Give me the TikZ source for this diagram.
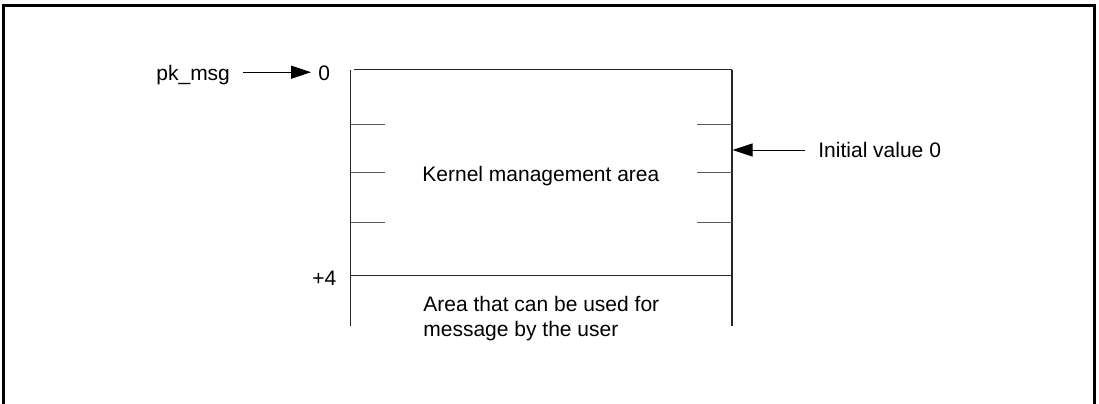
\documentclass[tikz,border=0pt]{standalone}
\usepackage{fontspec}
\setmainfont{Liberation Sans}
\usetikzlibrary{arrows.meta}
\begin{document}
\begin{tikzpicture}[x=0.5pt,y=-0.5pt,
  lbl/.style={inner sep=0pt,font=\fontsize{10.5pt}{12.5pt}\selectfont},
  wall/.style={line width=0.55pt,black!85},
  tick/.style={line width=0.55pt,black!65},
  ptr/.style={line width=0.5pt,-{Triangle[length=10pt,width=6.5pt]}}]
\useasboundingbox (0,0) rectangle (1099,403);
% outer frame, open at the bottom edge
\draw[line width=1.6pt] (3.5,420) -- (3.5,5.5) -- (1094.5,5.5) -- (1094.5,420);
% message block
\draw[wall] (354,69.5) -- (732,69.5);
\draw[wall] (350.5,70) -- (350.5,326);
\draw[wall] (732,69.5) -- (732,326);
\draw[wall] (350.5,275.5) -- (732,275.5);
\foreach \y in {124.5,172.5,222.5}{
  \draw[tick] (350.5,\y) -- (385,\y);
  \draw[tick] (697,\y) -- (732,\y);
}
\coordinate (init) at (732.5,150);
% labels
\node[lbl,anchor=base west] (pk) at (156,80) {pk\_msg};
\node[lbl,anchor=base west] (zero) at (318,80) {0};
\node[lbl,anchor=base west] (four) at (312,285) {+4};
\node[lbl,anchor=base west] (iv) at (818,157) {Initial value 0};
\node[lbl,anchor=base west] (kma) at (422,181.5) {Kernel management area};
\node[lbl,anchor=base west] (ua1) at (423,311) {Area that can be used for};
\node[lbl,anchor=base west] (ua2) at (423,336) {message by the user};
% pointers
\draw[ptr] ([xshift=6.5pt,yshift=3.9pt]pk.base east) -- ([xshift=-3.5pt,yshift=3.9pt]zero.base west);
\draw[ptr] ([xshift=-6.5pt]iv.west |- init) -- (init);
\end{tikzpicture}
\end{document}
